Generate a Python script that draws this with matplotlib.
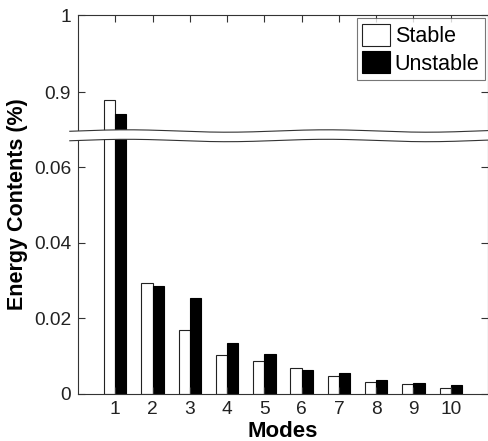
import numpy as np
import matplotlib
matplotlib.use("Agg")
import matplotlib.pyplot as plt
from matplotlib.patches import Polygon

modes = np.arange(1, 11)
stable = [0.890, 0.0294, 0.0168, 0.0103, 0.0086, 0.0068, 0.0047, 0.0031, 0.0026, 0.0017]
unstable = [0.872, 0.0285, 0.0254, 0.0136, 0.0105, 0.0063, 0.0055, 0.0037, 0.0028, 0.0024]
ytick_vals = [0, 0.02, 0.04, 0.06, 0.9, 1]
ytick_labels = ["0", "0.02", "0.04", "0.06", "0.9", "1"]

plt.rcParams['font.family'] = ['Liberation Sans', 'DejaVu Sans']

LO, HI, K, EPS = 0.068, 0.843, 0.205, 1e-4
P1 = LO + (HI - LO) * EPS

def fwd(v):
    v = np.asarray(v, dtype=float)
    return np.where(v <= LO, v, np.where(v >= HI, P1 + (v - HI) * K, LO + (v - LO) * EPS))

def inv(p):
    p = np.asarray(p, dtype=float)
    return np.where(p <= LO, p, np.where(p >= P1, HI + (p - P1) / K, LO + (p - LO) / EPS))

fig = plt.figure(figsize=(4.89, 4.41), dpi=100)
ax = fig.add_axes([78/489, 1 - 394/441, 410/489, 379/441])
ax.set_yscale('function', functions=(fwd, inv))

w = 0.3
ax.bar(modes - w/2, stable, width=w, color='white', edgecolor='#222222', linewidth=0.8, label='Stable')
ax.bar(modes + w/2, unstable, width=w, color='black', edgecolor='black', linewidth=0.8, label='Unstable')

ax.set_xlim(0, 11)
ax.set_ylim(0, 1)
ax.set_xticks(modes)
ax.set_xticklabels([str(m) for m in modes])
ax.set_yticks(ytick_vals)
ax.set_yticklabels(ytick_labels)
ax.minorticks_off()
ax.tick_params(direction='in', length=5, width=0.8, top=True, right=True, labelsize=13.8, pad=5,
               colors='#333333', labelcolor='#222222')
for s in ax.spines.values():
    s.set_linewidth(0.8)
    s.set_color('#333333')

ax.set_xlabel('Modes', fontsize=16, fontweight='bold', labelpad=2)
ax.set_ylabel('Energy Contents (%)', fontsize=15.5, fontweight='bold', labelpad=4)

leg = ax.legend(loc='upper right', fontsize=15.5, frameon=True, fancybox=False,
                borderaxespad=0.15, handlelength=1.3, handleheight=1.2,
                handletextpad=0.2, labelspacing=0.2, borderpad=0.25)
leg.get_frame().set_edgecolor('#555555')
leg.get_frame().set_linewidth(0.8)

# wavy break band (decoration, in axes-fraction coordinates)
xs = np.linspace(-0.02, 1.0, 300)
xpix = 78 + xs * 410
wave = 1.2 * np.sin(2 * np.pi * (xpix - 177) / 200)
y_top = (394 - (131 + wave)) / 379
y_bot = (394 - (140.5 + wave)) / 379
poly = Polygon(np.column_stack([np.r_[xs, xs[::-1]], np.r_[y_top, y_bot[::-1]]]),
               closed=True, facecolor='white', edgecolor='none',
               transform=ax.transAxes, clip_on=False, zorder=5)
ax.add_patch(poly)
ax.plot(xs, y_top, color='#333333', lw=0.8, transform=ax.transAxes, clip_on=False, zorder=6)
ax.plot(xs, y_bot, color='#333333', lw=0.8, transform=ax.transAxes, clip_on=False, zorder=6)

fig.savefig('out.png', dpi=100)
